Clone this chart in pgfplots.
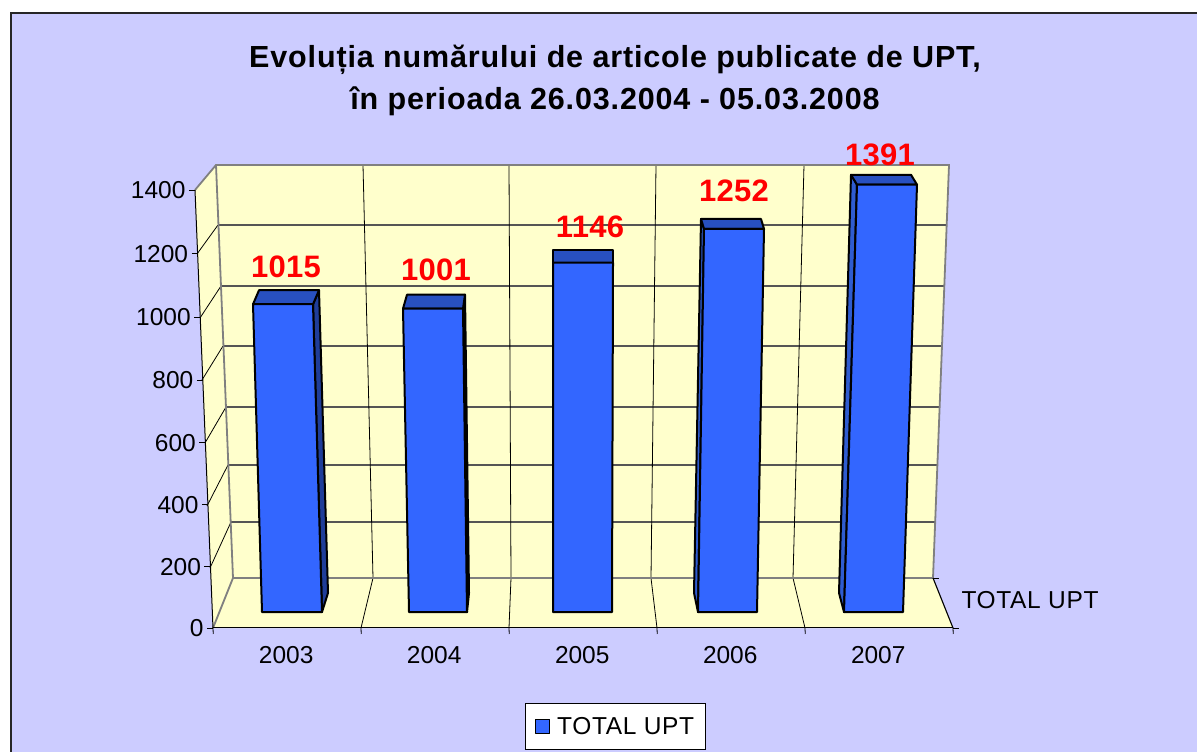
\documentclass[border=0pt]{standalone}
\usepackage{fontspec}
\setmainfont{Liberation Sans}
\usepackage{pgfplots}
\pgfplotsset{compat=1.18}
\definecolor{panel}{HTML}{CCCCFF}
\definecolor{wall}{HTML}{FFFFCC}
\definecolor{barfront}{HTML}{3366FF}
\definecolor{bartop}{HTML}{2850C0}
\definecolor{bardark}{HTML}{1F3D99}
\definecolor{barleft}{HTML}{2F5CD0}
\definecolor{walledge}{HTML}{808080}
\definecolor{gridgray}{HTML}{555555}
\newcommand{\ticksize}{\fontsize{24.5}{28}\selectfont}
\newcommand{\wide}{\addfontfeatures{LetterSpace=2.6}}
\pgfplotsset{
  pagebox/.style={width=1197pt,height=752pt,scale only axis,hide axis,at={(0pt,0pt)},anchor=south west},
  barline/.style={draw=black,line width=2pt,line join=round,forget plot},
}
\begin{document}
\begin{tikzpicture}
% chart furniture, in image pixels
\begin{axis}[pagebox,xmin=0,xmax=1197,ymin=0,ymax=752,y dir=reverse]
\addplot[fill=white,draw=none] coordinates {(0,0)(1197,0)(1197,752)(0,752)} -- cycle;
\addplot[fill=panel,draw=none] coordinates {(11,13)(1197,13)(1197,752)(11,752)} -- cycle;
\addplot[draw=black!85,line width=2pt] coordinates {(11,752)(11,13)(1197,13)};
% walls and floor
\addplot[fill=wall,draw=none] coordinates {(216,165)(949,165)(933,578)(233,578)} -- cycle;
\addplot[fill=wall,draw=none] coordinates {(195,190)(216,165)(233,578)(213,628)} -- cycle;
\addplot[fill=wall,draw=none] coordinates {(233,578)(933,578)(953,628)(213,628)} -- cycle;
% back wall grid
\addplot[draw=gridgray,line width=1.3pt] coordinates {(218,225)(946,225)};
\addplot[draw=gridgray,line width=1.3pt] coordinates {(221,286)(944,286)};
\addplot[draw=gridgray,line width=1.3pt] coordinates {(223,346)(942,346)};
\addplot[draw=gridgray,line width=1.3pt] coordinates {(226,407)(940,407)};
\addplot[draw=gridgray,line width=1.3pt] coordinates {(228,465)(938,465)};
\addplot[draw=gridgray,line width=1.3pt] coordinates {(231,522)(936,522)};
\addplot[draw=black,line width=0.8pt] coordinates {(363,165)(373,578)(361,628)};
\addplot[draw=black,line width=0.8pt] coordinates {(509,165)(511,578)(509,628)};
\addplot[draw=black,line width=0.8pt] coordinates {(656,165)(651,578)(657,628)};
\addplot[draw=black,line width=0.8pt] coordinates {(804,165)(793,578)(805,628)};
% left wall grid
\addplot[draw=black,line width=0.8pt] coordinates {(197,254)(218,225)};
\addplot[draw=black,line width=0.8pt] coordinates {(200,318)(221,286)};
\addplot[draw=black,line width=0.8pt] coordinates {(202,380)(223,346)};
\addplot[draw=black,line width=0.8pt] coordinates {(205,443)(226,407)};
\addplot[draw=black,line width=0.8pt] coordinates {(207,506)(228,465)};
\addplot[draw=black,line width=0.8pt] coordinates {(210,568)(231,522)};
% wall edges
\addplot[draw=walledge,line width=1.8pt] coordinates {(195,190)(216,165)(949,165)(933,578)(233,578)(216,165)};
\addplot[draw=walledge,line width=1.8pt] coordinates {(233,578)(213,628)};
\addplot[draw=black,line width=1.1pt] coordinates {(933,578)(953,628)};
\addplot[draw=black,line width=1pt] coordinates {(933,578)(939,578)};
\addplot[draw=black,line width=1pt] coordinates {(953,628)(959,628)};
\end{axis}
% value axis and years on the front edge of the floor, slanted like the wall
\begin{axis}[
  at={(213pt,124pt)},anchor=origin,
  x={(148pt,0pt)},y={(-0.012857pt,0.312857pt)},
  xmin=0,xmax=5,ymin=0,ymax=1400,
  y coord trafo/.code={\pgfmathparse{#1-0.0000196*#1*(1400-#1)}},
  axis x line=bottom,axis y line=left,
  axis line style={-,black,line width=1pt},
  tick style={black,line width=0.8pt},
  major tick length=6pt,tick align=outside,
  xtick={0,1,2,3,4,5},
  x tick label as interval=true,
  xticklabels={2003,2004,2005,2006,2007},
  ytick={0,200,400,600,800,1000,1200,1400},
  yticklabels={0,200,400,600,800,1000,1200,1400},
  /pgf/number format/assume math mode=true,
  /pgf/number format/1000 sep={},
  tick label style={font=\ticksize},
  xticklabel style={yshift=-9pt,xshift=-1.5pt},
  clip=false,
]
\addplot[draw=none,forget plot] coordinates {(0,0)(5,1400)};
\end{axis}
% bars: tops sit on the values, y=0 at pixel row 627, 0.318 px per article
\begin{axis}[pagebox,xmin=0,xmax=1197,ymin=-393.1,ymax=1971.7,clip=false,
  legend style={at={(0.5142,0.0339)},anchor=center,draw=black,line width=1pt,fill=white,
    font=\ticksize,inner xsep=9pt,inner ysep=12pt,
    /tikz/every odd column/.append style={column sep=5pt}},
  legend image code/.code={\draw[fill=barfront,draw=black,line width=1.4pt] (0pt,-7pt) rectangle (14pt,7pt);},
  ]
\addplot[barline,fill=bardark] coordinates {(322,47)(328,107)(319,1059)(313,1015)} -- cycle;
\addplot[barline,fill=bartop] coordinates {(253,1015)(313,1015)(319,1059)(259,1059)} -- cycle;
\addplot[draw=black,line width=2pt,line join=round,fill=barfront] coordinates {(262,47)(322,47)(313,1015)(253,1015)} -- cycle;
\addlegendentry{\wide TOTAL UPT}
\addplot[barline,fill=black] coordinates {(467,47)(469,107)(465,1045)(463,1001)} -- cycle;
\addplot[barline,fill=bartop] coordinates {(403,1001)(463,1001)(465,1045)(407,1045)} -- cycle;
\addplot[barline,fill=barfront] coordinates {(409,47)(467,47)(463,1001)(403,1001)} -- cycle;
\addplot[barline,fill=bartop] coordinates {(553,1146)(613,1146)(613,1184)(553,1184)} -- cycle;
\addplot[barline,fill=barfront] coordinates {(553,47)(612,47)(613,1146)(553,1146)} -- cycle;
\addplot[barline,fill=barleft] coordinates {(698,47)(694,107)(701,1283)(704,1252)} -- cycle;
\addplot[barline,fill=bartop] coordinates {(704,1252)(764,1252)(761,1283)(701,1283)} -- cycle;
\addplot[barline,fill=barfront] coordinates {(698,47)(757,47)(764,1252)(704,1252)} -- cycle;
\addplot[barline,fill=barleft] coordinates {(844,47)(839,107)(851,1422)(857,1391)} -- cycle;
\addplot[barline,fill=bartop] coordinates {(857,1391)(917,1391)(911,1422)(851,1422)} -- cycle;
\addplot[barline,fill=barfront] coordinates {(844,47)(903,47)(917,1391)(857,1391)} -- cycle;
\begin{scope}[every node/.style={text=red,font=\fontsize{31}{34}\selectfont\bfseries\addfontfeatures{LetterSpace=1},inner sep=0pt}]
\node[yshift=37pt] at (axis cs:286,1015) {1015};
\node[yshift=39pt] at (axis cs:436,1001) {1001};
\node[yshift=36pt] at (axis cs:590,1146) {1146};
\node[yshift=38pt] at (axis cs:734,1252) {1252};
\node[yshift=30pt] at (axis cs:880,1391) {1391};
\end{scope}
\node[font=\ticksize\wide,inner sep=0pt] at (axis cs:1030,85) {TOTAL UPT};
\node[font=\fontsize{30.5}{42}\selectfont\bfseries\addfontfeatures{LetterSpace=2.8},align=center,inner sep=0pt] at (axis cs:615,1719)
  {Evoluția numărului de articole publicate de UPT,\\în perioada 26.03.2004 - 05.03.2008};
\end{axis}
\end{tikzpicture}
\end{document}
